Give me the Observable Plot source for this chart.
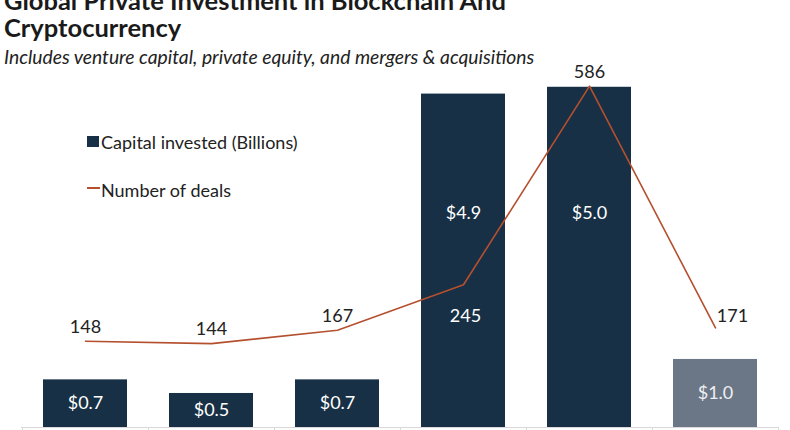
<!DOCTYPE html>
<html>
<head>
<meta charset="utf-8">
<script src="https://cdn.jsdelivr.net/npm/d3@7"></script>
<script src="https://cdn.jsdelivr.net/npm/@observablehq/plot@0.6"></script>
<style>
  html, body { margin: 0; padding: 0; background: #fff; }
  #wrap { position: relative; width: 790px; height: 430px; overflow: hidden; font-family: Lato, "Open Sans", sans-serif; color: #1a1a1a; }
  #title { position: absolute; left: 4px; top: -13px; font-size: 25.5px; line-height: 27px; font-weight: 700; white-space: nowrap; }
  #subtitle { position: absolute; left: 4px; top: 46px; font-size: 19.3px; line-height: 22px; font-style: italic; white-space: nowrap; color: #222; }
  #chart { position: absolute; left: 0; top: 55px; }
  .leg { position: absolute; font-size: 18px; line-height: 22px; color: #222; white-space: nowrap; }
  .sw { position: absolute; }
</style>
</head>
<body>
<div id="wrap">
  <div id="title">Global Private Investment in Blockchain And<br>Cryptocurrency</div>
  <div id="subtitle">Includes venture capital, private equity, and mergers &amp; acquisitions</div>
  <div id="chart"></div>
  <div class="sw" style="left:87px;top:136px;width:12px;height:11px;background:#173045"></div>
  <div class="leg" style="left:101px;top:131px">Capital invested (Billions)</div>
  <div class="sw" style="left:87px;top:187px;width:13px;height:2px;background:#b5502f"></div>
  <div class="leg" style="left:101px;top:179px">Number of deals</div>
</div>
<script>
const categories = ["2013", "2014", "2015", "2016", "2017", "2018"];
const capital = [0.7, 0.5, 0.7, 4.9, 5.0, 1.0];
const deals = [148, 144, 167, 245, 586, 171];
const partialYear = [false, false, false, false, false, true];

const data = categories.map((c, i) => ({cat: c, capital: capital[i], deals: deals[i], partial: partialYear[i]}));
const k = 0.00856; // deals -> shared vertical units (secondary axis)
const navy = "#173045", grey = "#6b7786", rust = "#b5502f";

const plot = Plot.plot({
  width: 790,
  height: 375,
  marginLeft: 21,
  marginRight: 11,
  marginTop: 10,
  marginBottom: 3,
  style: {fontFamily: "Lato, 'Open Sans', sans-serif", background: "transparent"},
  x: {domain: categories, paddingInner: 0.33, paddingOuter: 0.165, axis: null},
  y: {domain: [0, 5.32], axis: null},
  marks: [
    Plot.barY(data, {x: "cat", y: "capital", fill: d => d.partial ? grey : navy}),
    Plot.ruleY([0], {stroke: "#d9d9d9", strokeWidth: 1}),
    Plot.ruleX(categories, {x: d => d, dx: -63, y1: 0, y2: -0.1, stroke: "#d9d9d9"}),
    Plot.ruleX(categories.slice(-1), {x: d => d, dx: 63, y1: 0, y2: -0.1, stroke: "#d9d9d9"}),
    Plot.text(data, {x: "cat", y: d => d.capital > 3 ? 3.15 : d.capital / 2, text: d => "$" + d.capital.toFixed(1), fill: d => d.partial ? "#eef0f3" : "#fff", fontSize: 18}),
    Plot.line(data, {x: "cat", y: d => d.deals * k, stroke: rust, strokeWidth: 1.6}),
    Plot.text(data.filter(d => d.cat !== "2016" && d.cat !== "2018"), {x: "cat", y: d => d.deals * k, text: d => String(d.deals), dy: -14, fill: "#222", fontSize: 18}),
    Plot.text(data.filter(d => d.cat === "2018"), {x: "cat", y: d => d.deals * k, text: d => String(d.deals), dx: 17, dy: -12, fill: "#222", fontSize: 18}),
    Plot.text(data.filter(d => d.cat === "2016"), {x: "cat", y: d => d.deals * k, text: d => String(d.deals), dx: 2, dy: 31, fill: "#fff", fontSize: 18})
  ]
});
document.getElementById("chart").appendChild(plot);
</script>
</body>
</html>
